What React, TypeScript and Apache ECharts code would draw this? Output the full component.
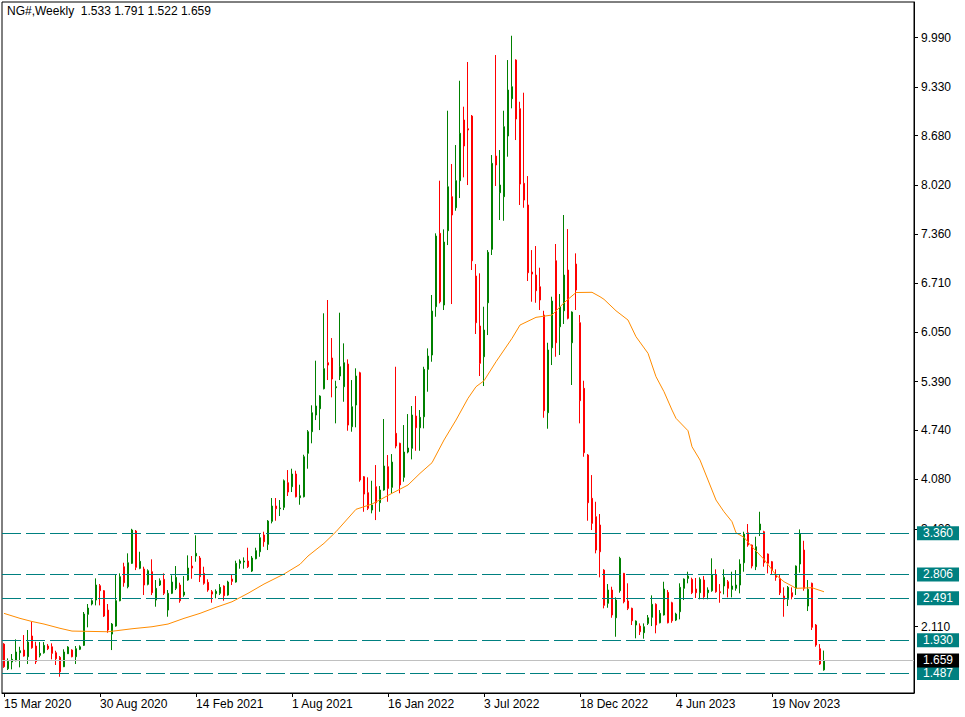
import React, { useEffect, useRef } from "react";
import * as echarts from "echarts";

const TITLE = "NG#,Weekly  1.533 1.791 1.522 1.659";
const MONTHS = ["Jan", "Feb", "Mar", "Apr", "May", "Jun", "Jul", "Aug", "Sep", "Oct", "Nov", "Dec"];
const START_UTC = Date.UTC(2020, 2, 15);
const TOTAL_SLOTS = 228;

const opens = [
  1.878, 1.548, 1.638, 1.655, 1.762, 1.798, 1.709, 1.986, 1.852, 1.727, 1.762, 1.852, 1.842, 1.762, 1.701, 1.575, 1.749, 1.798, 1.709, 1.808,
  1.861, 2.276, 2.414, 2.467, 2.659, 2.592, 2.333, 2.012, 2.119, 2.458, 2.913, 2.645, 2.958, 3.390, 2.891, 2.882, 2.677, 2.846, 2.467, 2.668,
  2.744, 2.333, 2.557, 2.624, 2.668, 2.534, 2.735, 2.922, 3.056, 3.029, 2.824, 2.704, 2.578, 2.552, 2.557, 2.655, 2.534, 2.748, 2.708, 2.958,
  2.976, 2.989, 2.855, 3.020, 3.113, 3.337, 3.212, 3.520, 3.725, 3.689, 3.707, 4.037, 3.983, 4.153, 3.836, 3.849, 4.430, 4.719, 4.942, 5.026,
  5.294, 5.642, 5.705, 5.307, 5.464, 5.321, 5.624, 4.786, 5.076, 5.508, 4.117, 3.903, 3.671, 3.983, 3.769, 3.939, 4.251, 3.975, 4.697, 4.564,
  4.109, 4.447, 4.497, 4.929, 4.772, 4.919, 5.553, 5.745, 6.391, 7.373, 6.414, 7.408, 7.863, 7.715, 8.077, 8.889, 8.772, 8.942, 6.802, 6.133,
  5.722, 6.444, 7.159, 8.407, 7.916, 7.863, 8.675, 9.174, 9.691, 9.040, 8.042, 7.752, 6.855, 6.815, 6.658, 6.280, 4.973, 5.842, 7.006, 6.123,
  6.337, 6.882, 5.909, 6.962, 6.177, 5.299, 4.407, 3.828, 3.582, 3.471, 2.868, 2.423, 2.601, 2.230, 2.592, 2.824, 2.454, 2.356, 2.133, 2.119,
  2.030, 2.155, 2.236, 2.410, 2.163, 2.267, 2.570, 2.431, 2.199, 2.311, 2.624, 2.757, 2.744, 2.614, 2.565, 2.735, 2.565, 2.592, 2.802, 2.578,
  2.655, 2.712, 2.610, 2.624, 2.668, 2.966, 3.367, 3.203, 2.913, 3.404, 3.381, 3.083, 2.980, 2.802, 2.757, 2.521, 2.477, 2.565, 2.624, 2.949,
  3.136, 2.387, 2.691, 2.133, 1.816, 1.533,
];

const highs = [
  1.890, 1.687, 1.745, 1.941, 1.842, 1.999, 2.066, 2.177, 1.909, 1.905, 1.905, 1.878, 1.888, 1.789, 1.718, 1.808, 1.850, 1.808, 1.852, 1.861,
  2.307, 2.414, 2.477, 2.757, 2.681, 2.601, 2.414, 2.160, 2.802, 2.824, 2.966, 3.092, 3.420, 3.404, 3.113, 2.913, 2.878, 3.012, 2.735, 2.757,
  2.824, 2.601, 2.798, 2.922, 2.699, 2.788, 3.065, 3.056, 3.333, 3.056, 2.913, 2.744, 2.601, 2.610, 2.681, 2.664, 2.725, 2.802, 2.993, 3.012,
  3.038, 3.167, 3.056, 3.167, 3.350, 3.381, 3.537, 3.832, 3.832, 3.805, 4.080, 4.206, 4.224, 4.197, 4.010, 4.411, 4.741, 5.072, 5.669, 5.206,
  6.303, 6.481, 5.972, 5.401, 6.311, 5.901, 5.687, 5.410, 5.567, 5.521, 4.126, 4.109, 4.063, 4.273, 3.992, 4.889, 4.407, 4.420, 5.588, 4.572,
  4.808, 4.955, 5.063, 5.196, 5.009, 5.588, 5.834, 6.548, 7.373, 8.077, 7.426, 9.013, 8.300, 8.554, 9.414, 9.067, 9.665, 8.956, 6.962, 6.838,
  6.391, 7.149, 8.420, 9.758, 8.487, 9.013, 9.691, 10.016, 9.701, 9.133, 9.254, 8.139, 7.149, 7.203, 6.913, 6.337, 5.909, 6.525, 7.230, 6.561,
  7.618, 7.430, 6.329, 7.105, 6.280, 5.401, 4.420, 4.139, 3.782, 3.618, 2.880, 2.681, 2.645, 2.503, 3.046, 2.830, 2.691, 2.365, 2.195, 2.155,
  2.155, 2.267, 2.530, 2.423, 2.333, 2.712, 2.601, 2.444, 2.297, 2.691, 2.757, 2.846, 2.766, 2.762, 2.771, 2.788, 2.637, 3.025, 2.878, 2.681,
  2.878, 2.735, 2.846, 2.868, 3.012, 3.381, 3.484, 3.210, 3.314, 3.648, 3.394, 3.090, 2.990, 2.878, 2.802, 2.637, 2.655, 2.637, 2.930, 3.412,
  3.260, 2.735, 2.700, 2.146, 1.878, 1.791,
];

const lows = [
  1.560, 1.531, 1.540, 1.647, 1.567, 1.709, 1.611, 1.816, 1.611, 1.701, 1.750, 1.798, 1.674, 1.598, 1.441, 1.570, 1.745, 1.701, 1.611, 1.798,
  1.852, 2.102, 2.396, 2.396, 2.396, 2.240, 2.030, 1.798, 2.110, 2.450, 2.645, 2.624, 2.950, 2.868, 2.880, 2.534, 2.664, 2.534, 2.378, 2.655,
  2.534, 2.244, 2.547, 2.601, 2.431, 2.511, 2.725, 2.752, 2.980, 2.708, 2.672, 2.578, 2.431, 2.490, 2.534, 2.458, 2.525, 2.668, 2.700, 2.886,
  2.886, 2.895, 2.842, 3.012, 3.046, 3.180, 3.136, 3.493, 3.528, 3.591, 3.671, 3.859, 3.912, 3.840, 3.742, 3.840, 4.224, 4.564, 4.875, 4.741,
  5.285, 5.410, 5.179, 4.831, 5.410, 5.120, 4.732, 4.719, 4.778, 4.050, 3.648, 3.671, 3.627, 3.537, 3.648, 3.930, 3.782, 3.895, 4.497, 3.895,
  4.050, 4.430, 4.349, 4.464, 4.464, 4.764, 5.254, 5.655, 6.257, 6.436, 6.347, 7.216, 6.427, 7.675, 7.845, 8.122, 8.019, 6.882, 6.026, 5.464,
  5.330, 6.012, 7.083, 8.006, 7.551, 7.541, 8.398, 9.045, 8.621, 7.752, 7.715, 6.735, 6.458, 6.444, 6.347, 4.906, 4.759, 5.611, 5.722, 5.745,
  6.160, 6.222, 5.344, 6.347, 4.831, 4.384, 3.528, 3.404, 3.092, 2.771, 2.356, 2.364, 2.230, 1.976, 2.565, 2.423, 2.333, 2.133, 1.955, 1.999,
  1.950, 2.133, 2.119, 2.022, 2.155, 2.260, 2.155, 2.163, 2.186, 2.209, 2.467, 2.691, 2.547, 2.494, 2.477, 2.477, 2.477, 2.578, 2.565, 2.431,
  2.543, 2.503, 2.503, 2.592, 2.557, 2.846, 3.180, 2.891, 2.868, 3.323, 2.913, 2.824, 2.815, 2.725, 2.534, 2.244, 2.387, 2.477, 2.534, 2.833,
  2.592, 2.320, 2.066, 1.842, 1.600, 1.522,
];

const closes = [
  1.575, 1.647, 1.674, 1.772, 1.789, 1.718, 1.905, 1.829, 1.642, 1.754, 1.861, 1.816, 1.754, 1.682, 1.508, 1.772, 1.838, 1.709, 1.816, 1.842,
  2.280, 2.360, 2.458, 2.668, 2.592, 2.253, 2.066, 2.146, 2.458, 2.779, 2.699, 2.966, 3.404, 2.905, 2.985, 2.668, 2.859, 2.565, 2.624, 2.725,
  2.557, 2.557, 2.708, 2.771, 2.458, 2.574, 2.895, 2.895, 3.092, 2.779, 2.691, 2.601, 2.547, 2.584, 2.637, 2.525, 2.708, 2.717, 2.958, 2.989,
  2.989, 2.913, 3.029, 3.127, 3.301, 3.247, 3.524, 3.725, 3.689, 3.698, 4.063, 3.912, 4.153, 3.849, 3.862, 4.384, 4.719, 4.973, 5.063, 5.196,
  5.562, 5.611, 5.424, 5.321, 5.588, 5.642, 4.808, 5.053, 5.464, 4.073, 3.885, 3.694, 3.738, 3.769, 3.939, 4.260, 3.961, 4.313, 4.527, 4.006,
  4.447, 4.501, 4.942, 4.772, 4.911, 5.553, 5.731, 6.333, 7.337, 6.458, 7.256, 7.996, 7.618, 8.077, 8.711, 8.541, 8.755, 7.006, 6.177, 5.634,
  6.079, 7.119, 8.309, 8.287, 8.019, 8.799, 9.290, 9.334, 8.902, 8.032, 7.818, 6.846, 6.828, 6.605, 6.481, 5.000, 5.812, 6.467, 5.909, 6.391,
  6.815, 6.236, 6.320, 6.614, 5.134, 4.438, 3.769, 3.493, 3.136, 3.113, 2.396, 2.601, 2.267, 2.467, 3.025, 2.444, 2.356, 2.190, 2.186, 2.043,
  2.110, 2.230, 2.410, 2.133, 2.289, 2.614, 2.163, 2.190, 2.280, 2.637, 2.748, 2.788, 2.565, 2.565, 2.744, 2.511, 2.601, 2.802, 2.578, 2.565,
  2.771, 2.624, 2.655, 2.668, 2.949, 3.350, 3.203, 2.922, 3.180, 3.484, 2.966, 2.958, 2.868, 2.771, 2.565, 2.477, 2.637, 2.511, 2.922, 3.350,
  2.624, 2.610, 2.102, 1.865, 1.611, 1.659,
];

// moving average: [bar index, value]
const maPoints = [
  [0, 2.289], [4, 2.222], [7, 2.18], [10, 2.146], [14, 2.089], [17, 2.052], [26, 2.043], [28, 2.056], [32, 2.083], [37, 2.11],
  [41, 2.146], [45, 2.222], [49, 2.289], [53, 2.37], [57, 2.444], [61, 2.557], [65, 2.681], [70, 2.815], [74, 2.945], [76, 3.056],
  [80, 3.226], [83, 3.381], [88, 3.681], [92, 3.751], [97, 3.895], [101, 4.006], [104, 4.162], [107, 4.304], [110, 4.608], [113, 4.875],
  [116, 5.166], [118, 5.321], [120, 5.401], [123, 5.655], [127, 5.968], [129, 6.146], [133, 6.249], [137, 6.28], [140, 6.444], [143, 6.581],
  [147, 6.584], [149, 6.525], [150, 6.49], [153, 6.337], [156, 6.213], [158, 5.99], [161, 5.768], [163, 5.455], [165, 5.254], [167, 5.009],
  [168, 4.898], [171, 4.732], [172, 4.518], [174, 4.34], [178, 3.805], [180, 3.648], [182, 3.515], [183, 3.367], [185, 3.306], [187, 3.18],
  [190, 3.012], [193, 2.802], [195, 2.712], [197, 2.655], [198, 2.624], [202, 2.632], [205, 2.578],
];

const levelValues = [3.36, 2.806, 2.491, 1.93, 1.487];
const currentPrice = 1.659;
const yTickLabels = [9.99, 9.33, 8.68, 8.02, 7.36, 6.71, 6.05, 5.39, 4.74, 4.08, 3.42, 2.11];

const FONT = "'Liberation Sans', Arial, sans-serif";

function fmtDate(i: number): string {
  const d = new Date(START_UTC + i * 7 * 86400000);
  return `${d.getUTCDate()} ${MONTHS[d.getUTCMonth()]} ${d.getUTCFullYear()}`;
}

export default function App() {
  const ref = useRef<HTMLDivElement>(null);
  useEffect(() => {
    document.body.style.margin = "0";
    if (!ref.current) return;
    const chart = echarts.init(ref.current, null, { renderer: "svg" });
    const categories = Array.from({ length: TOTAL_SLOTS }, (_, i) => fmtDate(i));
    const candles = opens.map((o, i) => [o, closes[i], lows[i], highs[i]]);
    const markData: any[] = levelValues.map((v) => ({
      yAxis: v,
      lineStyle: { color: "#008080", type: [19, 5], width: 1 },
      label: {
        show: true,
        position: "end",
        distance: 3,
        formatter: v.toFixed(3),
        color: "#ffffff",
        backgroundColor: "#008080",
        fontFamily: FONT,
        fontSize: 12,
        lineHeight: 13,
        padding: [1, 6, 0, 6],
      },
    }));
    markData.push({
      yAxis: currentPrice,
      lineStyle: { color: "#c0c0c0", type: "solid", width: 1 },
      label: {
        show: true,
        position: "end",
        distance: 3,
        formatter: currentPrice.toFixed(3),
        color: "#ffffff",
        backgroundColor: "#000000",
        fontFamily: FONT,
        fontSize: 12,
        lineHeight: 13,
        padding: [1, 6, 0, 6],
      },
    });

    chart.setOption({
      animation: false,
      backgroundColor: "#ffffff",
      textStyle: { fontFamily: FONT },
      grid: {
        left: 2,
        right: 51,
        top: 2,
        bottom: 24,
        show: true,
        borderColor: "#000000",
        borderWidth: 1,
        backgroundColor: "transparent",
      },
      graphic: [
        {
          type: "text",
          left: 7,
          top: 5,
          z: 100,
          style: { text: TITLE, fontSize: 12, fontFamily: FONT, fill: "#000000" },
        },
      ],
      xAxis: {
        type: "category",
        data: categories,
        boundaryGap: true,
        axisLine: { show: true, lineStyle: { color: "#000000" } },
        axisTick: { show: true, interval: 23, alignWithLabel: true, length: 4, lineStyle: { color: "#000000" } },
        axisLabel: {
          interval: 23,
          align: "left",
          margin: 5,
          color: "#000000",
          fontSize: 12,
          fontFamily: FONT,
          showMaxLabel: false,
        },
        splitLine: { show: false },
      },
      yAxis: {
        type: "value",
        position: "right",
        min: 1.2236,
        max: 10.4676,
        scale: true,
        axisLine: { show: true, lineStyle: { color: "#000000" } },
        axisTick: { show: true, length: 4, customValues: yTickLabels, lineStyle: { color: "#000000" } },
        axisLabel: {
          customValues: yTickLabels,
          formatter: (v: number) => v.toFixed(3),
          margin: 7,
          color: "#000000",
          fontSize: 12,
          fontFamily: FONT,
        },
        splitLine: { show: false },
      },
      series: [
        {
          type: "candlestick",
          data: candles,
          barWidth: 2,
          itemStyle: {
            color: "#008000",
            color0: "#ff0000",
            borderColor: "#008000",
            borderColor0: "#ff0000",
            borderColorDoji: "#008000",
            borderWidth: 1,
          },
          markLine: {
            silent: true,
            symbol: ["none", "none"],
            animation: false,
            data: markData,
          },
          z: 3,
        },
        {
          type: "line",
          data: maPoints,
          showSymbol: false,
          symbol: "none",
          lineStyle: { color: "#ff8c00", width: 1 },
          z: 4,
          silent: true,
        },
      ],
    });
    return () => chart.dispose();
  }, []);
  return <div ref={ref} style={{ width: 965, height: 717 }} />;
}
